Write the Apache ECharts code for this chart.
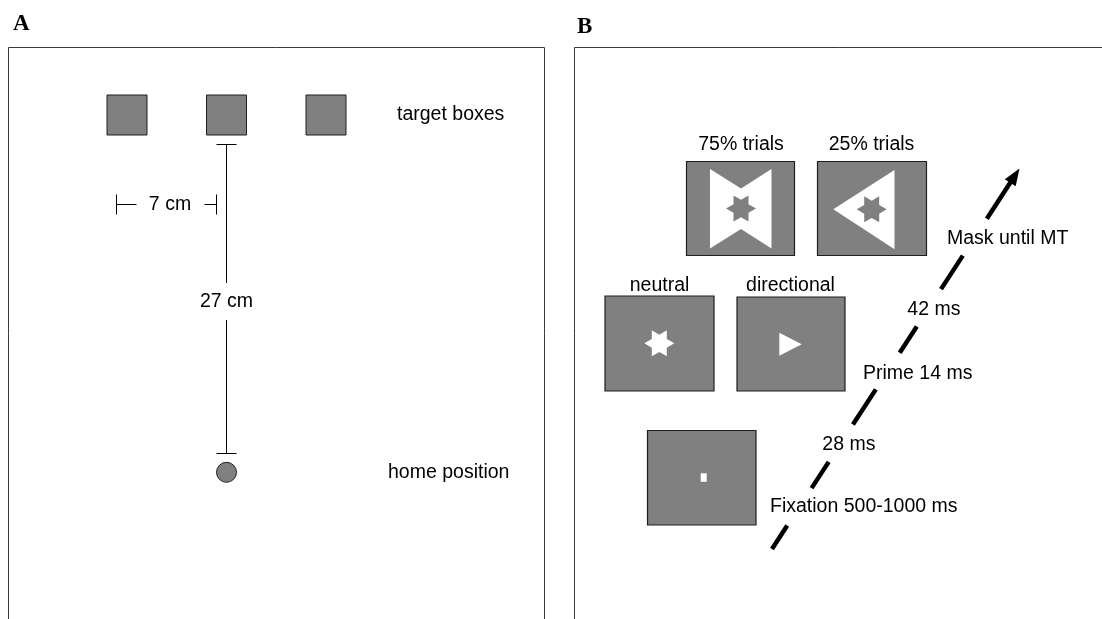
<!DOCTYPE html>
<html>
<head>
<meta charset="utf-8">
<script src="https://cdn.jsdelivr.net/npm/echarts@6/dist/echarts.min.js"></script>
<style>
  html, body { margin: 0; padding: 0; background: #fff; }
  #main { width: 1102px; height: 619px; }
</style>
</head>
<body>
<div id="main"></div>
<script>
// ---- data (diagram units = px of the 1102x619 canvas) ----
var panelLetters = [['A', 13, 24], ['B', 577, 27]];
var frames = [[8.5, 47.5, 544.5, 660], [574.5, 47.5, 1130, 660]];

// panel A
var targetBoxes = [[107, 95, 40, 40], [206.5, 95, 40, 40], [306, 95, 40, 40]];
var reachLine = [226.5, 144.5, 453.5];        // x, top tick, bottom tick
var reachGap = [283, 320];                     // gap for the "27 cm" label
var widthBracket = [116.5, 216.5, 204.5];      // x left, x right, y
var homePosition = [226.5, 472.3, 10];
var panelALabels = ['target boxes', '7 cm', '27 cm', 'home position'];
var panelALabelPos = [[397, 115, 'left'], [170, 204.5, 'center'], [226.5, 302, 'center'], [388, 472.3, 'left']];

// panel B
var stimTitles = ['75% trials', '25% trials', 'neutral', 'directional'];
var stimTitlePos = [[741, 145], [871.5, 145], [659.5, 286], [790.5, 286]];
var stimBoxes = [[686.5, 161.5, 108, 94], [817.5, 161.5, 109, 94], [605, 296, 109, 95], [737, 297, 108, 94], [647.5, 430.5, 108.5, 94.5]];
var maskBowtie = [[710, 169], [741, 188.5], [771.5, 169], [771.5, 248.5], [741, 229], [710, 248.5]];
var maskArrow = [[833.3, 209.3], [894.5, 170], [894.5, 249.3]];
var grayStars = [[741, 208.5, 15], [871.7, 209.3, 15]];
var whiteStars = [[659.3, 343.3, 15]];
var primeArrow = [[779.3, 332.7], [801.7, 344.2], [779.3, 355.7]];
var fixationDot = [700.7, 473.3, 6, 8.5];

var timeLabels = ['Fixation 500-1000 ms', '28 ms', 'Prime 14 ms', '42 ms', 'Mask until MT'];
var timeLabelPos = [[770, 507], [822.3, 444.5], [863, 373.5], [907.3, 310], [947, 238.5]];
var timeArrow = [[772, 549], [1019.5, 168.5]];
var timeSegments = [[0, 0.0615], [0.16, 0.229], [0.327, 0.4195], [0.516, 0.585], [0.683, 0.771], [0.868, 1]];

// ---- build shape list ----
var GRAY = '#808080';
var EDGE = '#1f1f1f';
var SANS = '"Liberation Sans", Arial, Helvetica, sans-serif';
var shapes = [];

function star(cx, cy, R) {
  var pts = [];
  var r = R * 0.577;
  for (var i = 0; i < 12; i++) {
    var a = (Math.PI / 6) * i;
    var rr = i % 2 === 0 ? R : r;
    pts.push([cx + rr * Math.cos(a), cy + rr * Math.sin(a)]);
  }
  return pts;
}

frames.forEach(function (f) {
  shapes.push({ kind: 'rect', p: [f[0], f[1]], q: [f[2], f[3]], fill: 'none', stroke: '#3a3a3a', lw: 1 });
});
panelLetters.forEach(function (l) {
  shapes.push({ kind: 'text', text: l[0], p: [l[1], l[2]], align: 'left', va: 'middle',
    font: 'bold 23px "Liberation Serif", "Times New Roman", serif' });
});

// panel A
targetBoxes.forEach(function (b) {
  shapes.push({ kind: 'rect', p: [b[0], b[1]], q: [b[0] + b[2], b[1] + b[3]], fill: GRAY, stroke: EDGE, lw: 1 });
});
shapes.push({ kind: 'line', p: [reachLine[0], reachLine[1]], q: [reachLine[0], reachGap[0]], lw: 1 });
shapes.push({ kind: 'line', p: [reachLine[0], reachGap[1]], q: [reachLine[0], reachLine[2]], lw: 1 });
shapes.push({ kind: 'line', p: [reachLine[0] - 10, reachLine[1]], q: [reachLine[0] + 10, reachLine[1]], lw: 1 });
shapes.push({ kind: 'line', p: [reachLine[0] - 10, reachLine[2]], q: [reachLine[0] + 10, reachLine[2]], lw: 1 });
shapes.push({ kind: 'line', p: [widthBracket[0], widthBracket[2] - 10], q: [widthBracket[0], widthBracket[2] + 10], lw: 1 });
shapes.push({ kind: 'line', p: [widthBracket[0], widthBracket[2]], q: [widthBracket[0] + 20, widthBracket[2]], lw: 1 });
shapes.push({ kind: 'line', p: [widthBracket[1] - 12, widthBracket[2]], q: [widthBracket[1], widthBracket[2]], lw: 1 });
shapes.push({ kind: 'line', p: [widthBracket[1], widthBracket[2] - 10], q: [widthBracket[1], widthBracket[2] + 10], lw: 1 });
shapes.push({ kind: 'circle', p: [homePosition[0], homePosition[1]], r: homePosition[2], fill: GRAY, stroke: EDGE, lw: 1 });
panelALabels.forEach(function (t, i) {
  var pos = panelALabelPos[i];
  shapes.push({ kind: 'text', text: t, p: [pos[0], pos[1]], align: pos[2], va: 'middle', font: '19.5px ' + SANS });
});

// panel B
stimBoxes.forEach(function (b) {
  shapes.push({ kind: 'rect', p: [b[0], b[1]], q: [b[0] + b[2], b[1] + b[3]], fill: GRAY, stroke: EDGE, lw: 1.2 });
});
shapes.push({ kind: 'poly', pts: maskBowtie, fill: '#fff' });
shapes.push({ kind: 'poly', pts: maskArrow, fill: '#fff' });
grayStars.forEach(function (s) { shapes.push({ kind: 'poly', pts: star(s[0], s[1], s[2]), fill: GRAY }); });
whiteStars.forEach(function (s) { shapes.push({ kind: 'poly', pts: star(s[0], s[1], s[2]), fill: '#fff' }); });
shapes.push({ kind: 'poly', pts: primeArrow, fill: '#fff' });
shapes.push({ kind: 'rect', p: [fixationDot[0], fixationDot[1]], q: [fixationDot[0] + fixationDot[2], fixationDot[1] + fixationDot[3]], fill: '#fff', stroke: 'none', lw: 0 });
stimTitles.forEach(function (t, i) {
  shapes.push({ kind: 'text', text: t, p: stimTitlePos[i], align: 'center', va: 'middle', font: '19.5px ' + SANS });
});

// time arrow, broken where the labels sit
var a0 = timeArrow[0], a1 = timeArrow[1];
var dx = a1[0] - a0[0], dy = a1[1] - a0[1];
var len = Math.sqrt(dx * dx + dy * dy);
var ux = dx / len, uy = dy / len;
var headLen = 17, headHalf = 6.5;
timeSegments.forEach(function (s, i) {
  var t1 = s[1];
  var end = [a0[0] + dx * t1, a0[1] + dy * t1];
  if (i === timeSegments.length - 1) end = [a1[0] - ux * (headLen - 2), a1[1] - uy * (headLen - 2)];
  shapes.push({ kind: 'line', p: [a0[0] + dx * s[0], a0[1] + dy * s[0]], q: end, lw: 4.5 });
});
var hb = [a1[0] - ux * headLen, a1[1] - uy * headLen];
shapes.push({ kind: 'poly', fill: '#000', pts: [a1, [hb[0] - uy * headHalf, hb[1] + ux * headHalf], [hb[0] + uy * headHalf, hb[1] - ux * headHalf]] });
timeLabels.forEach(function (t, i) {
  shapes.push({ kind: 'text', text: t, p: timeLabelPos[i], align: 'left', va: 'middle', font: '19.5px ' + SANS });
});

// ---- chart ----
var chartDom = document.getElementById('main');
var myChart = echarts.init(chartDom, null, { renderer: 'canvas' });

function renderShape(params, api) {
  var s = shapes[params.dataIndex];
  var c, d;
  if (s.kind === 'rect') {
    c = api.coord(s.p); d = api.coord(s.q);
    return { type: 'rect', shape: { x: c[0], y: c[1], width: d[0] - c[0], height: d[1] - c[1] },
      style: { fill: s.fill, stroke: s.stroke, lineWidth: s.lw } };
  }
  if (s.kind === 'line') {
    c = api.coord(s.p); d = api.coord(s.q);
    return { type: 'line', shape: { x1: c[0], y1: c[1], x2: d[0], y2: d[1] },
      style: { stroke: '#000', lineWidth: s.lw, lineCap: 'butt' } };
  }
  if (s.kind === 'circle') {
    c = api.coord(s.p);
    return { type: 'circle', shape: { cx: c[0], cy: c[1], r: api.size([s.r, 0])[0] },
      style: { fill: s.fill, stroke: s.stroke, lineWidth: s.lw } };
  }
  if (s.kind === 'poly') {
    return { type: 'polygon', shape: { points: s.pts.map(function (p) { return api.coord(p); }) },
      style: { fill: s.fill } };
  }
  c = api.coord(s.p);
  return { type: 'text', x: c[0], y: c[1],
    style: { text: s.text, font: s.font, fill: '#000', align: s.align, verticalAlign: s.va } };
}

var option = {
  backgroundColor: '#fff',
  animation: false,
  grid: { left: 0, right: 0, top: 0, bottom: 0 },
  xAxis: { type: 'value', min: 0, max: 1102, show: false },
  yAxis: { type: 'value', min: 0, max: 619, inverse: true, show: false },
  series: [{
    type: 'custom',
    renderItem: renderShape,
    clip: false,
    silent: true,
    data: shapes.map(function (s, i) { return [i, 0]; })
  }]
};
option && myChart.setOption(option);
</script>
</body>
</html>
